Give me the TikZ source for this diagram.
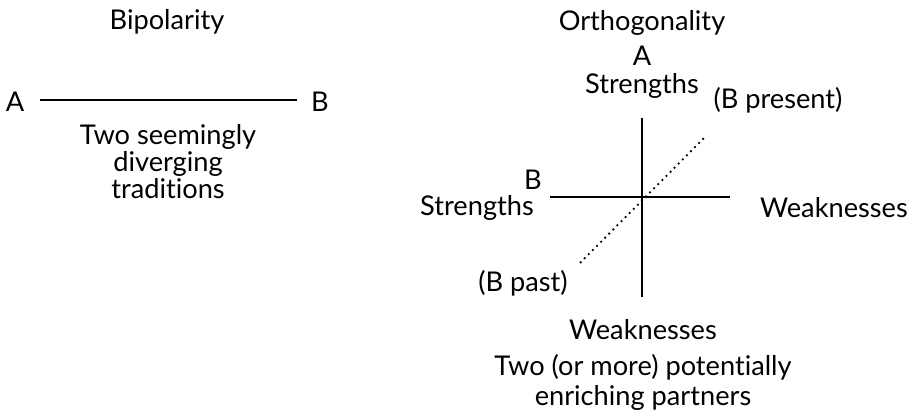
\documentclass[tikz,border=0pt]{standalone}
\usepackage{fontspec}
\setmainfont[Ligatures=CommonOff]{Lato}
\usetikzlibrary{positioning}

\begin{document}
\begin{tikzpicture}[x=0.5pt,y=0.5pt,
    lbl/.style={font=\fontsize{13.6}{13.5}\selectfont, inner sep=0pt},
    axis/.style={line width=1pt}]
\useasboundingbox (0,0) rectangle (907,418);
% left: bipolarity
\node[lbl] (bititle) at (167,396) {Bipolarity};
\node[lbl] (ba) at (15,316) {A};
\node[lbl] (bb) at (320,316) {B};
\coordinate (bl) at (40,318);
\coordinate (br) at (297,318);
\draw[axis] (bl) -- (br);
\node[lbl, align=center] (btxt) at (168,256) {Two seemingly\\diverging\\traditions};
% right: orthogonality
\node[lbl] (otitle) at (642,395) {Orthogonality};
\node[lbl] (oa) at (642,362) {A};
\node[lbl] (ostr) at (642,332) {Strengths};
\coordinate (top) at (642,300);
\coordinate (bot) at (642,121);
\coordinate (lft) at (550,221);
\coordinate (rgt) at (730,221);
\coordinate (past) at (580,155);
\coordinate (pres) at (705,281);
\draw[axis] (top) -- (bot);
\draw[axis] (lft) -- (rgt);
\draw[line width=0.9pt, dotted] (past) -- (pres);
\node[lbl] (bpres) at (778,318) {(B present)};
\node[lbl] (ob) at (533,238) {B};
\node[lbl] (bstr) at (477,210) {Strengths};
\node[lbl] (bweak) at (834,210) {Weaknesses};
\node[lbl] (bpast) at (523,135) {(B past)};
\node[lbl] (oweak) at (643,88) {Weaknesses};
\node[lbl] (otxt1) at (643,51) {Two (or more) potentially};
\node[lbl] (otxt2) at (643,20) {enriching partners};
\end{tikzpicture}
\end{document}
